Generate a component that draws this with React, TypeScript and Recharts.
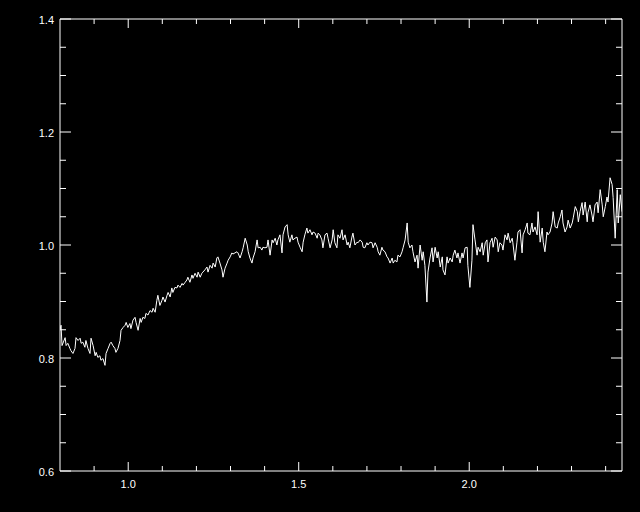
import React from 'react';
import { LineChart, Line, XAxis, YAxis } from 'recharts';

// wavelength (x) and normalised flux (y), row by row
const wavelength = [
  0.800, 0.803, 0.806, 0.815, 0.818, 0.823, 0.829, 0.832, 0.838, 0.844,
  0.847, 0.853, 0.859, 0.862, 0.867, 0.873, 0.876, 0.882, 0.888, 0.891,
  0.897, 0.903, 0.906, 0.911, 0.917, 0.920, 0.926, 0.932, 0.935, 0.941,
  0.947, 0.950, 0.955, 0.961, 0.964, 0.970, 0.976, 0.979, 0.985, 0.991,
  0.994, 0.999, 1.005, 1.008, 1.014, 1.020, 1.023, 1.029, 1.035, 1.038,
  1.043, 1.049, 1.052, 1.058, 1.064, 1.070, 1.073, 1.079, 1.084, 1.087,
  1.093, 1.099, 1.102, 1.108, 1.114, 1.117, 1.123, 1.128, 1.131, 1.137,
  1.143, 1.146, 1.152, 1.158, 1.161, 1.167, 1.172, 1.175, 1.181, 1.187,
  1.190, 1.196, 1.202, 1.205, 1.211, 1.216, 1.219, 1.225, 1.231, 1.234,
  1.240, 1.246, 1.249, 1.255, 1.260, 1.263, 1.269, 1.275, 1.278, 1.284,
  1.290, 1.293, 1.299, 1.304, 1.307, 1.313, 1.319, 1.322, 1.328, 1.334,
  1.337, 1.343, 1.349, 1.352, 1.357, 1.363, 1.366, 1.372, 1.378, 1.381,
  1.387, 1.392, 1.395, 1.401, 1.407, 1.410, 1.416, 1.422, 1.425, 1.431,
  1.436, 1.439, 1.445, 1.451, 1.454, 1.460, 1.466, 1.469, 1.474, 1.480,
  1.483, 1.489, 1.495, 1.498, 1.504, 1.510, 1.513, 1.518, 1.524, 1.527,
  1.533, 1.539, 1.542, 1.548, 1.554, 1.557, 1.562, 1.568, 1.571, 1.577,
  1.583, 1.586, 1.592, 1.598, 1.601, 1.606, 1.612, 1.615, 1.621, 1.627,
  1.630, 1.636, 1.642, 1.645, 1.650, 1.656, 1.659, 1.665, 1.671, 1.674,
  1.680, 1.686, 1.689, 1.694, 1.700, 1.703, 1.709, 1.715, 1.718, 1.724,
  1.730, 1.733, 1.738, 1.744, 1.747, 1.753, 1.759, 1.762, 1.768, 1.774,
  1.777, 1.782, 1.788, 1.791, 1.797, 1.803, 1.806, 1.812, 1.818, 1.821,
  1.826, 1.832, 1.835, 1.841, 1.847, 1.850, 1.856, 1.862, 1.865, 1.870,
  1.876, 1.879, 1.885, 1.891, 1.894, 1.900, 1.906, 1.909, 1.915, 1.921,
  1.923, 1.929, 1.935, 1.938, 1.944, 1.950, 1.953, 1.958, 1.964, 1.967,
  1.973, 1.979, 1.982, 1.988, 1.994, 1.996, 2.002, 2.008, 2.011, 2.017,
  2.023, 2.026, 2.032, 2.038, 2.041, 2.047, 2.052, 2.055, 2.061, 2.067,
  2.070, 2.076, 2.082, 2.085, 2.090, 2.096, 2.099, 2.105, 2.111, 2.114,
  2.120, 2.126, 2.128, 2.134, 2.140, 2.143, 2.149, 2.155, 2.158, 2.164,
  2.170, 2.172, 2.178, 2.184, 2.187, 2.193, 2.199, 2.202, 2.208, 2.214,
  2.217, 2.222, 2.228, 2.231, 2.237, 2.243, 2.246, 2.252, 2.258, 2.261,
  2.267, 2.272, 2.275, 2.281, 2.287, 2.290, 2.296, 2.302, 2.305, 2.311,
  2.317, 2.320, 2.325, 2.331, 2.334, 2.340, 2.346, 2.348, 2.354, 2.360,
  2.363, 2.369, 2.375, 2.378, 2.384, 2.390, 2.393, 2.399, 2.404, 2.407,
  2.413, 2.419, 2.422, 2.428, 2.434, 2.437, 2.443, 2.448,
];

const flux = [
  0.849, 0.858, 0.822, 0.836, 0.822, 0.826, 0.817, 0.813, 0.808, 0.817,
  0.836, 0.831, 0.835, 0.826, 0.828, 0.819, 0.831, 0.817, 0.808, 0.835,
  0.822, 0.804, 0.810, 0.801, 0.804, 0.796, 0.799, 0.787, 0.808, 0.817,
  0.826, 0.828, 0.822, 0.817, 0.810, 0.817, 0.831, 0.849, 0.854, 0.858,
  0.863, 0.854, 0.861, 0.852, 0.867, 0.872, 0.863, 0.849, 0.870, 0.863,
  0.872, 0.870, 0.879, 0.876, 0.884, 0.881, 0.888, 0.881, 0.902, 0.911,
  0.893, 0.902, 0.908, 0.899, 0.911, 0.916, 0.908, 0.924, 0.916, 0.925,
  0.924, 0.929, 0.925, 0.932, 0.929, 0.934, 0.938, 0.943, 0.934, 0.947,
  0.941, 0.950, 0.943, 0.952, 0.943, 0.950, 0.952, 0.956, 0.961, 0.952,
  0.964, 0.959, 0.968, 0.961, 0.977, 0.979, 0.968, 0.956, 0.943, 0.959,
  0.968, 0.973, 0.979, 0.986, 0.984, 0.986, 0.988, 0.986, 0.977, 0.988,
  0.995, 1.012, 1.000, 0.988, 0.977, 0.968, 0.977, 0.988, 1.009, 0.995,
  0.996, 0.991, 0.996, 0.995, 0.996, 1.009, 0.982, 1.009, 1.004, 1.012,
  1.000, 1.009, 1.018, 0.986, 1.018, 1.032, 1.036, 1.018, 1.005, 1.018,
  1.009, 1.012, 1.014, 1.005, 0.996, 0.988, 1.005, 1.018, 1.030, 1.021,
  1.027, 1.018, 1.023, 1.021, 1.012, 1.021, 1.018, 1.009, 0.995, 1.018,
  1.021, 1.012, 0.995, 1.009, 1.027, 1.004, 0.995, 1.018, 1.012, 1.027,
  1.009, 1.018, 1.000, 1.005, 0.995, 1.014, 1.021, 1.000, 1.005, 1.004,
  1.009, 1.005, 0.996, 0.995, 1.004, 1.000, 1.005, 1.004, 0.995, 1.004,
  0.996, 0.988, 0.982, 0.996, 0.991, 0.988, 0.979, 0.977, 0.968, 0.977,
  0.968, 0.973, 0.970, 0.982, 0.979, 0.988, 0.995, 1.009, 1.039, 1.005,
  0.995, 1.000, 0.988, 0.970, 0.982, 0.959, 1.000, 0.973, 0.988, 0.964,
  0.899, 0.952, 0.977, 0.995, 0.970, 0.996, 0.977, 0.988, 0.961, 0.979,
  0.956, 0.947, 0.979, 0.968, 0.977, 0.970, 0.982, 0.991, 0.977, 0.986,
  0.968, 0.986, 0.977, 0.995, 0.996, 0.964, 0.925, 0.973, 1.036, 1.009,
  0.982, 0.996, 0.988, 1.004, 0.982, 1.004, 1.009, 0.970, 1.004, 1.012,
  0.996, 1.014, 1.009, 0.988, 1.004, 1.000, 0.991, 1.018, 1.009, 1.021,
  1.004, 1.012, 1.004, 0.973, 1.005, 1.023, 1.027, 0.986, 1.018, 1.027,
  1.039, 1.021, 1.018, 1.039, 1.023, 1.032, 1.018, 1.059, 1.005, 1.030,
  1.005, 0.988, 1.023, 1.018, 1.023, 1.039, 1.059, 1.032, 1.030, 1.039,
  1.050, 1.062, 1.039, 1.023, 1.032, 1.044, 1.030, 1.039, 1.048, 1.068,
  1.059, 1.041, 1.059, 1.075, 1.053, 1.076, 1.041, 1.057, 1.071, 1.053,
  1.041, 1.071, 1.076, 1.057, 1.098, 1.071, 1.050, 1.068, 1.085, 1.076,
  1.119, 1.107, 1.084, 1.012, 1.098, 1.039, 1.089, 1.059,
];

// major + minor ticks (IDL style)
const xTicks = [0.8, 0.9, 1.0, 1.1, 1.2, 1.3, 1.4, 1.5, 1.6, 1.7, 1.8, 1.9, 2.0, 2.1, 2.2, 2.3, 2.4];
const yTicks = [0.6, 0.65, 0.7, 0.75, 0.8, 0.85, 0.9, 0.95, 1.0, 1.05, 1.1, 1.15, 1.2, 1.25, 1.3, 1.35, 1.4];

const data = wavelength.map((w, i) => ({ w, f: flux[i] }));

const FONT = '"Liberation Sans", "DejaVu Sans", sans-serif';
const isMajorX = (v: number) => Math.abs(v * 2 - Math.round(v * 2)) < 1e-6;
const isMajorY = (v: number) => Math.abs(v * 5 - Math.round(v * 5)) < 1e-6;

const BottomTick = (props: any) => {
    const { x, y, payload } = props;
    const major = isMajorX(payload.value);
    if (payload.value < 0.85) return null;
    return (
        <g>
            <line x1={x} y1={y} x2={x} y2={y - (major ? 9 : 5)} stroke="#fff" />
            {major && (
                <text x={x} y={y + 17} textAnchor="middle" fill="#fff" fontSize={11} fontFamily={FONT}>
                    {payload.value.toFixed(1)}
                </text>
            )}
        </g>
    );
};

const TopTick = (props: any) => {
    const { x, y, payload } = props;
    if (payload.value < 0.85) return null;
    const major = isMajorX(payload.value);
    return <line x1={x} y1={y} x2={x} y2={y + (major ? 9 : 5)} stroke="#fff" />;
};

const LeftTick = (props: any) => {
    const { x, y, payload } = props;
    const major = isMajorY(payload.value);
    return (
        <g>
            <line x1={x} y1={y} x2={x + (major ? 11 : 6)} y2={y} stroke="#fff" />
            {major && (
                <text x={x - 6} y={y + 5} textAnchor="end" fill="#fff" fontSize={11} fontFamily={FONT}>
                    {payload.value.toFixed(1)}
                </text>
            )}
        </g>
    );
};

const RightTick = (props: any) => {
    const { x, y, payload } = props;
    const major = isMajorY(payload.value);
    return <line x1={x} y1={y} x2={x - (major ? 11 : 6)} y2={y} stroke="#fff" />;
};

const App = () => {
    return (
        <div style={{ position: 'absolute', left: 0, top: 0, width: 640, height: 512, background: '#000' }}>
            <LineChart width={640} height={512} data={data} margin={{ top: 0, right: 0, left: 0, bottom: 0 }}>
                <XAxis
                    dataKey="w"
                    type="number"
                    domain={[0.8, 2.448]}
                    allowDataOverflow
                    ticks={xTicks}
                    interval={0}
                    height={41}
                    tickSize={0}
                    tickMargin={0}
                    axisLine={{ stroke: '#fff' }}
                    tickLine={false}
                    tick={<BottomTick />}
                />
                <XAxis
                    xAxisId="top"
                    orientation="top"
                    dataKey="w"
                    type="number"
                    domain={[0.8, 2.448]}
                    allowDataOverflow
                    ticks={xTicks}
                    interval={0}
                    height={19}
                    tickSize={0}
                    tickMargin={0}
                    axisLine={{ stroke: '#fff' }}
                    tickLine={false}
                    tick={<TopTick />}
                />
                <YAxis
                    type="number"
                    domain={[0.6, 1.4]}
                    allowDataOverflow
                    ticks={yTicks}
                    interval={0}
                    width={60}
                    tickSize={0}
                    tickMargin={0}
                    axisLine={{ stroke: '#fff' }}
                    tickLine={false}
                    tick={<LeftTick />}
                />
                <YAxis
                    yAxisId="right"
                    orientation="right"
                    type="number"
                    domain={[0.6, 1.4]}
                    allowDataOverflow
                    ticks={yTicks}
                    interval={0}
                    width={18}
                    tickSize={0}
                    tickMargin={0}
                    axisLine={{ stroke: '#fff' }}
                    tickLine={false}
                    tick={<RightTick />}
                />
                <Line
                    dataKey="f"
                    type="linear"
                    stroke="#fff"
                    strokeWidth={1}
                    dot={false}
                    isAnimationActive={false}
                />
            </LineChart>
        </div>
    );
};

export default App;
